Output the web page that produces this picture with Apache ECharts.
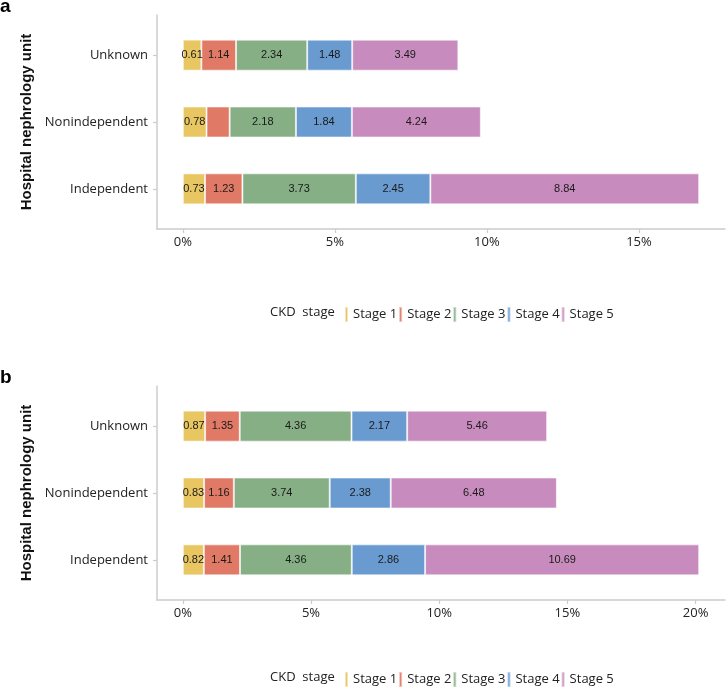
<!DOCTYPE html>
<html>
<head>
<meta charset="utf-8">
<script src="https://cdn.jsdelivr.net/npm/echarts@6/dist/echarts.min.js"></script>
<style>
html,body{margin:0;padding:0;background:#fff;}
#chart{width:727px;height:689px;}
</style>
</head>
<body>
<div id="chart"></div>
<script>
// ---- data ----
const categories = ['Independent', 'Nonindependent', 'Unknown']; // bottom to top
const stages = ['Stage 1', 'Stage 2', 'Stage 3', 'Stage 4', 'Stage 5'];
const xTicks = [0, 5, 10, 15, 20];

// Panel a values (per stage, in category order)
const aStage1 = [0.73, 0.78, 0.61];
const aStage2 = [1.23, 0.76, 1.14];
const aStage3 = [3.73, 2.18, 2.34];
const aStage4 = [2.45, 1.84, 1.48];
const aStage5 = [8.84, 4.24, 3.49];
// Labels not printed in the original (stage index, category index)
const aHiddenLabels = [[1, 1]];

// Panel b values
const bStage1 = [0.82, 0.83, 0.87];
const bStage2 = [1.41, 1.16, 1.35];
const bStage3 = [4.36, 3.74, 4.36];
const bStage4 = [2.86, 2.38, 2.17];
const bStage5 = [10.69, 6.48, 5.46];
const bHiddenLabels = [];

const colors = ['#E8C662', '#E07A66', '#86AF86', '#6A9BD0', '#C78CBD'];

const aValues = [aStage1, aStage2, aStage3, aStage4, aStage5];
const bValues = [bStage1, bStage2, bStage3, bStage4, bStage5];

function totals(vals) {
  return categories.map((c, i) => vals.reduce((s, v) => s + v[i], 0));
}
function range(vals) {
  const mx = Math.max(...totals(vals));
  const pad = mx * 0.05;
  return [-pad, mx + pad];
}
const aRange = range(aValues);
const bRange = range(bValues);

const axisColor = '#cccccc';
const textColor = '#222222';
const uiFont = 'Open Sans';

function outerAxes(gridIndex, rng, ticks) {
  return {
    x: {
      type: 'value', gridIndex, min: rng[0], max: rng[1],
      axisLine: { show: true, onZero: false, lineStyle: { color: axisColor, width: 1.5 } },
      axisTick: { show: true, length: 4, lineStyle: { color: axisColor, width: 1.2 }, customValues: ticks },
      axisLabel: { show: true, customValues: ticks, formatter: v => v + '%', color: textColor, fontSize: 13, fontFamily: uiFont, margin: 7 },
      splitLine: { show: false }
    },
    y: {
      type: 'value', gridIndex, min: 0, max: 1,
      axisLine: { show: true, onZero: false, lineStyle: { color: axisColor, width: 1.5 } },
      axisTick: { show: false }, axisLabel: { show: false }, splitLine: { show: false }
    }
  };
}
function innerAxes(gridIndex, rng) {
  return {
    x: { type: 'value', gridIndex, min: rng[0], max: rng[1], show: false, axisLine: { onZero: false } },
    y: {
      type: 'category', gridIndex, data: categories,
      axisLine: { show: false, onZero: false },
      axisTick: { show: true, alignWithLabel: true, length: 4, lineStyle: { color: axisColor, width: 1.2 } },
      axisLabel: { color: textColor, fontSize: 13, fontFamily: uiFont, margin: 9 },
      name: 'Hospital nephrology unit', nameLocation: 'middle', nameGap: 121,
      nameTextStyle: { fontSize: 15, fontWeight: 'bold', fontFamily: 'Liberation Sans', color: '#111' }
    }
  };
}

const aTicks = xTicks.filter(t => t <= aRange[1]);
const bTicks = xTicks.filter(t => t <= bRange[1]);

const aO = outerAxes(0, aRange, aTicks), aI = innerAxes(1, aRange);
const bO = outerAxes(2, bRange, bTicks), bI = innerAxes(3, bRange);

function makeSeries(vals, hidden, axisIdx, stack) {
  return stages.map((name, s) => ({
    name, type: 'bar', stack, xAxisIndex: axisIdx, yAxisIndex: axisIdx,
    barWidth: 31,
    itemStyle: { color: colors[s], borderColor: 'rgba(255,255,255,0.55)', borderWidth: 1 },
    label: {
      show: true, position: 'inside', color: '#1a1a1a', fontSize: 11, fontFamily: 'Liberation Sans',
      formatter: p => Number(p.value).toFixed(2)
    },
    emphasis: { disabled: true },
    data: vals[s].map((v, c) => {
      const hide = hidden.some(h => h[0] === s && h[1] === c);
      return hide ? { value: v, label: { show: false } } : v;
    })
  }));
}

const legendCommon = {
  data: stages, orient: 'horizontal', left: 344, padding: 0, icon: 'rect', itemWidth: 3, itemHeight: 15, itemGap: 1,
  selectedMode: false,
  textStyle: { color: textColor, fontSize: 13, fontFamily: uiFont }
};

const option = {
  animation: false,
  backgroundColor: '#ffffff',
  title: [
    { text: 'a', left: 0, top: -3, padding: 0, textStyle: { fontSize: 19, fontWeight: 'bold', fontFamily: 'Liberation Sans', color: '#000' } },
    { text: 'b', left: 0, top: 368, padding: 0, textStyle: { fontSize: 19, fontWeight: 'bold', fontFamily: 'Liberation Sans', color: '#000' } },
    { text: 'CKD  stage', left: 270, top: 306, padding: 0, textStyle: { fontSize: 13, fontWeight: 'normal', fontFamily: uiFont, color: textColor } },
    { text: 'CKD  stage', left: 270, top: 671, padding: 0, textStyle: { fontSize: 13, fontWeight: 'normal', fontFamily: uiFont, color: textColor } }
  ],
  legend: [
    Object.assign({}, legendCommon, { top: 306 }),
    Object.assign({}, legendCommon, { top: 671 })
  ],
  grid: [
    { left: 157, top: 15, width: 568, height: 214 },
    { left: 157, top: 21.7, width: 568, height: 200.6 },
    { left: 157, top: 386, width: 568, height: 214 },
    { left: 157, top: 392.7, width: 568, height: 200.6 }
  ],
  xAxis: [aO.x, aI.x, bO.x, bI.x],
  yAxis: [aO.y, aI.y, bO.y, bI.y],
  series: [].concat(
    makeSeries(aValues, aHiddenLabels, 1, 'a'),
    makeSeries(bValues, bHiddenLabels, 3, 'b')
  )
};

const chart = echarts.init(document.getElementById('chart'), null, { renderer: 'canvas' });
chart.setOption(option);
</script>
</body>
</html>
